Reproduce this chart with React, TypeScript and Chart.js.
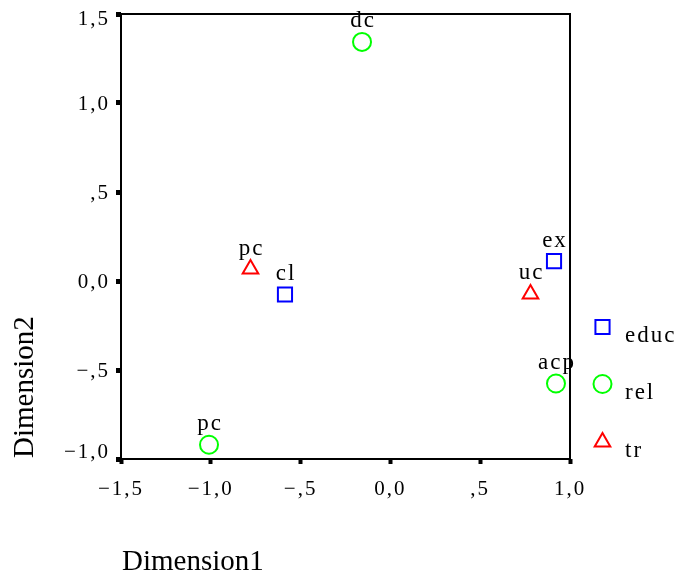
import React, { useEffect, useRef } from 'react';
import { Chart, registerables } from 'chart.js';

Chart.register(...registerables);

const X_TITLE = 'Dimension1';
const Y_TITLE = 'Dimension2';
const X_TICK_VALUES = [-1.5, -1.0, -0.5, 0.0, 0.5, 1.0];
const X_TICK_LABELS = ['−1,5', '−1,0', '−,5', '0,0', ',5', '1,0'];
const Y_TICK_VALUES = [-1.0, -0.5, 0.0, 0.5, 1.0, 1.5];
const Y_TICK_LABELS = ['−1,0', '−,5', '0,0', ',5', '1,0', '1,5'];

const SERIES_NAMES = ['educ', 'rel', 'tr'];
const SERIES_COLORS = ['#0000ff', '#00ff00', '#ff0000'];

const EDUC_LABELS = ['cl', 'ex'];
const EDUC_X = [-0.587, 0.911];
const EDUC_Y = [-0.076, 0.112];

const REL_LABELS = ['dc', 'acp', 'pc'];
const REL_X = [-0.158, 0.922, -1.01];
const REL_Y = [1.343, -0.576, -0.92];

const TR_LABELS = ['pc', 'uc'];
const TR_X = [-0.779, 0.78];
const TR_Y = [0.067, -0.073];

const FONT = 'Liberation Serif';

function pts(xs: number[], ys: number[]) {
  return xs.map((x, i) => ({ x, y: ys[i] }));
}

function marker(ctx: CanvasRenderingContext2D, style: string, x: number, y: number, r: number) {
  ctx.beginPath();
  if (style === 'rect') {
    const s = r * Math.SQRT1_2;
    ctx.rect(x - s, y - s, 2 * s, 2 * s);
  } else if (style === 'triangle') {
    ctx.moveTo(x, y - r);
    ctx.lineTo(x + 0.8660254 * r, y + 0.5 * r);
    ctx.lineTo(x - 0.8660254 * r, y + 0.5 * r);
    ctx.closePath();
  } else {
    ctx.arc(x, y, r, 0, Math.PI * 2);
  }
  ctx.stroke();
}

const decorPlugin = {
  id: 'decor',
  beforeDraw(chart: any) {
    (chart.ctx as any).letterSpacing = '2px';
    // keep the end labels of the y axis inside the frame, as in the reference
    const ys = chart.scales.y;
    const items = ys.getLabelItems(chart.chartArea);
    if (items && items.length && !(items as any)._shifted) {
      items[0].options.translation[1] -= 8;
      items[items.length - 1].options.translation[1] += 4;
      (items as any)._shifted = true;
    }
  },
  beforeDatasetsDraw(chart: any) {
    const { ctx, chartArea } = chart;
    ctx.save();
    ctx.strokeStyle = '#000';
    ctx.lineWidth = 2;
    ctx.strokeRect(chartArea.left, chartArea.top, chartArea.right - chartArea.left, chartArea.bottom - chartArea.top);
    ctx.restore();
  },
  afterDatasetsDraw(chart: any) {
    const { ctx, chartArea } = chart;
    ctx.save();
    (ctx as any).letterSpacing = '2px';
    ctx.fillStyle = '#000';
    ctx.font = `23px "${FONT}"`;
    ctx.textAlign = 'center';
    ctx.textBaseline = 'alphabetic';
    chart.data.datasets.forEach((ds: any, di: number) => {
      const meta = chart.getDatasetMeta(di);
      meta.data.forEach((el: any, i: number) => {
        ctx.fillText(ds.pointLabels[i], el.x + 1, el.y - 14.5);
      });
    });
    // legend
    const lx = chartArea.right + 32.5;
    const rows = [313, 370, 428];
    chart.data.datasets.forEach((ds: any, di: number) => {
      const y = chartArea.top + rows[di];
      ctx.strokeStyle = ds.borderColor;
      ctx.lineWidth = 2;
      marker(ctx, ds.pointStyle, lx, y, ds.pointRadius);
      ctx.fillStyle = '#000';
      ctx.textAlign = 'left';
      ctx.fillText(ds.label, lx + 22.5, y + 14.5);
    });
    // axis titles
    (ctx as any).letterSpacing = '0px';
    ctx.font = `29px "${FONT}"`;
    ctx.fillStyle = '#000';
    ctx.textAlign = 'left';
    ctx.fillText(X_TITLE, chartArea.left + 1, 570);
    ctx.save();
    ctx.translate(33, chartArea.bottom - 1);
    ctx.rotate(-Math.PI / 2);
    ctx.fillText(Y_TITLE, 0, 0);
    ctx.restore();
    ctx.restore();
  },
  afterDraw(chart: any) {
    (chart.ctx as any).letterSpacing = '0px';
  },
};

export default function App() {
  const ref = useRef<HTMLCanvasElement | null>(null);
  useEffect(() => {
    if (!ref.current) return;
    const mkDs = (i: number, style: string, r: number, xs: number[], ys: number[], labels: string[]) => ({
      label: SERIES_NAMES[i],
      data: pts(xs, ys),
      pointLabels: labels,
      pointStyle: style,
      pointRadius: r,
      pointHoverRadius: r,
      borderColor: SERIES_COLORS[i],
      backgroundColor: 'rgba(0,0,0,0)',
      pointBorderWidth: 2,
      showLine: false,
    });
    const tickCommon = {
      color: '#000',
      font: { family: FONT, size: 21 },
    };
    const chart = new Chart(ref.current, {
      type: 'scatter',
      data: {
        datasets: [
          mkDs(0, 'rect', 10, EDUC_X, EDUC_Y, EDUC_LABELS),
          mkDs(1, 'circle', 9, REL_X, REL_Y, REL_LABELS),
          mkDs(2, 'triangle', 9, TR_X, TR_Y, TR_LABELS),
        ] as any,
      },
      options: {
        animation: false,
        responsive: false,
        devicePixelRatio: 1,
        layout: { padding: { top: 14, right: 107, bottom: 0, left: 0 } },
        plugins: { legend: { display: false }, tooltip: { enabled: false } },
        scales: {
          x: {
            type: 'linear',
            min: -1.5,
            max: 1.0,
            afterFit: (s: any) => { s.height = 119; s.paddingLeft = 0; s.paddingRight = 0; },
            afterBuildTicks: (s: any) => { s.ticks = X_TICK_VALUES.map((v) => ({ value: v })); },
            ticks: {
              ...tickCommon,
              padding: 13,
              maxRotation: 0,
              autoSkip: false,
              callback: (v: any) => X_TICK_LABELS[X_TICK_VALUES.findIndex((t) => Math.abs(t - v) < 1e-9)] ?? '',
            },
            grid: { display: true, drawOnChartArea: false, drawTicks: true, tickLength: 5, tickWidth: 4, tickColor: '#000' },
            border: { display: false },
          },
          y: {
            type: 'linear',
            min: -1.0,
            max: 1.5,
            afterFit: (s: any) => { s.width = 121; s.paddingTop = 0; s.paddingBottom = 0; },
            afterBuildTicks: (s: any) => { s.ticks = Y_TICK_VALUES.map((v) => ({ value: v })); },
            ticks: {
              ...tickCommon,
              padding: 6,
              labelOffset: 1,
              autoSkip: false,
              callback: (v: any) => Y_TICK_LABELS[Y_TICK_VALUES.findIndex((t) => Math.abs(t - v) < 1e-9)] ?? '',
            },
            grid: { display: true, drawOnChartArea: false, drawTicks: true, tickLength: 5, tickWidth: 5, tickColor: '#000' },
            border: { display: false },
          },
        },
      } as any,
      plugins: [decorPlugin],
    });
    return () => chart.destroy();
  }, []);
  return (
    <div style={{ position: 'fixed', left: 0, top: 0, width: 677, height: 578, background: '#fff' }}>
      <canvas ref={ref} width={677} height={578} style={{ display: 'block' }} />
    </div>
  );
}
